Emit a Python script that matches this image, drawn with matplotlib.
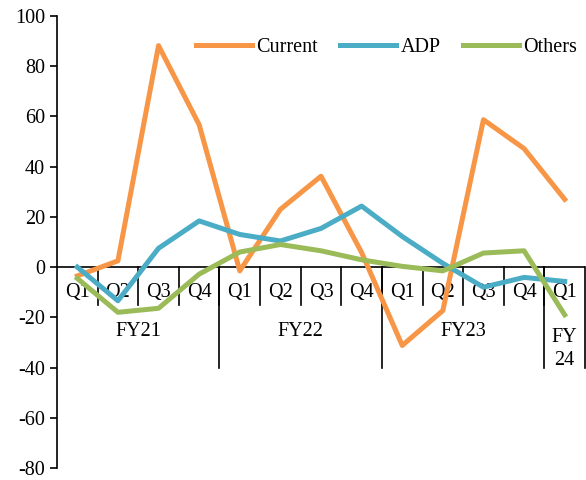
import numpy as np
import matplotlib
matplotlib.use('Agg')
import matplotlib.pyplot as plt

plt.rcParams['font.family'] = ['Liberation Serif', 'DejaVu Serif']
plt.rcParams['axes.unicode_minus'] = False

quarters = ['Q1', 'Q2', 'Q3', 'Q4'] * 3 + ['Q1']
years = ['FY21', 'FY22', 'FY23', 'FY\n24']
year_sizes = [4, 4, 4, 1]

current = [-3.5, 2.5, 88.2, 56.7, -1.5, 23.0, 36.2, 5.8, -31.2, -17.3, 58.7, 47.2, 27.0]
adp = [0.0, -13.4, 7.5, 18.4, 13.0, 10.4, 15.4, 24.3, 12.2, 1.5, -8.0, -4.1, -5.7]
others = [-4.5, -18.0, -16.4, -2.8, 6.0, 9.0, 6.5, 2.9, 0.3, -1.5, 5.6, 6.5, -19.0]

fs = 14.5
x = np.arange(len(quarters))

fig = plt.figure(figsize=(5.86, 4.8), dpi=100)
ax = fig.add_axes([57/586, 12/480, 528/586, 452/480])

ax.plot(x, current, color='#F79646', lw=3.6, label='Current', zorder=5)
ax.plot(x, adp, color='#4BACC6', lw=3.6, label='ADP', zorder=5)
ax.plot(x, others, color='#9BBB59', lw=3.6, label='Others', zorder=5)

ax.set_xlim(-0.5, len(x) - 0.5)
ax.set_ylim(-80, 100)
ax.set_yticks(np.arange(-80, 101, 20))
ax.tick_params(axis='y', labelsize=fs, direction='out', length=5, width=1.2)
ax.set_xticks([])
for s in ['top', 'right', 'bottom']:
    ax.spines[s].set_visible(False)
ax.spines['left'].set_linewidth(1.2)

# category axis drawn at y = 0
ax.plot([-0.5, len(x) - 0.5], [0, 0], color='black', lw=1.2, zorder=3)
for i, q in enumerate(quarters):
    ax.text(i, -10, q, ha='center', va='center', fontsize=fs, zorder=2)
for i in range(1, len(x)):
    ax.plot([i - 0.5, i - 0.5], [0, -15], color='black', lw=1.2, zorder=3)

start = 0
edges = [-0.5]
for name, n in zip(years, year_sizes):
    mid = start + (n - 1) / 2
    if '\n' in name:
        ax.text(mid, -32.5, name, ha='center', va='center', fontsize=fs, linespacing=1.3)
    else:
        ax.text(mid, -25.5, name, ha='center', va='center', fontsize=fs)
    start += n
    edges.append(start - 0.5)
for e in edges[1:]:
    ax.plot([e, e], [0, -40], color='black', lw=1.2, zorder=3, clip_on=False)

ax.legend(loc='upper right', ncol=3, frameon=False, fontsize=fs,
          handlelength=2.8, handletextpad=0.2, columnspacing=1.1,
          bbox_to_anchor=(1.0, 0.97), borderaxespad=0.0)

fig.savefig('out.png', dpi=100)
